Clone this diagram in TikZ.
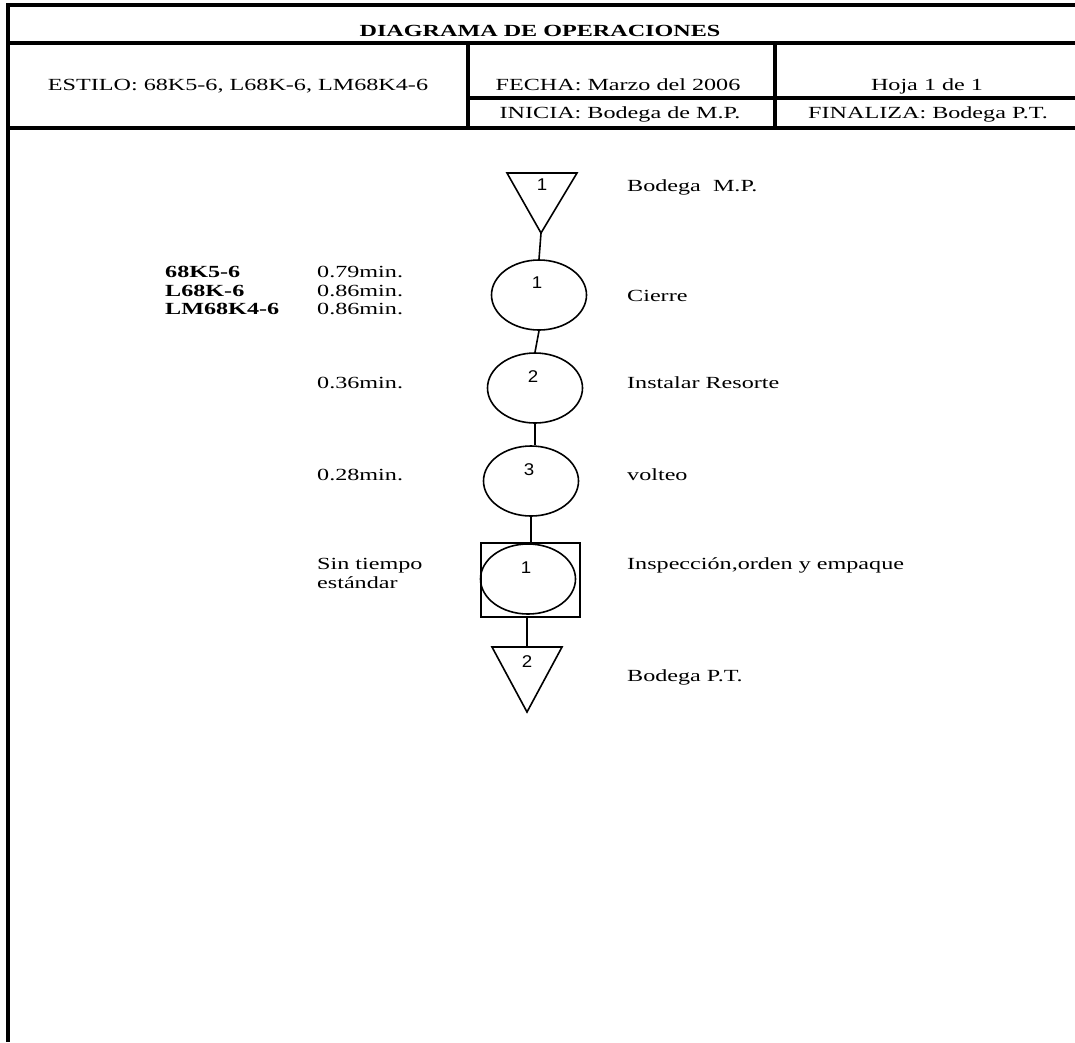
\documentclass[tikz,border=0pt]{standalone}
\usepackage{fontspec}
\setmainfont[FakeStretch=1.42]{Liberation Serif}
\newfontfamily\digitfont[FakeStretch=1.1]{Liberation Sans}
\usetikzlibrary{shapes.geometric}

\tikzset{
  frameline/.style={line width=3.6pt},
  thin/.style={line width=1.6pt},
  txt/.style={inner sep=0pt, anchor=base west, font=\fontsize{17}{19}\selectfont},
  ctxt/.style={inner sep=0pt, anchor=base, font=\fontsize{17}{19}\selectfont},
  num/.style={inner sep=0pt, anchor=base, font=\digitfont\fontsize{17}{17}\selectfont},
  oper/.style={draw, thin, ellipse, inner sep=0pt, minimum width=95pt, minimum height=70pt},
  inspbox/.style={draw, thin, rectangle, inner sep=0pt, minimum width=99pt, minimum height=74pt},
  conn/.style={thin}
}

\begin{document}
\begin{tikzpicture}[x=1pt,y=-1pt]
\useasboundingbox (0,0) rectangle (1075,1042);

% page frame and header grid
\draw[frameline] (6,5) -- (1075,5);
\draw[frameline] (8,3) -- (8,1042);
\draw[frameline] (8,43) -- (1075,43);
\draw[frameline] (8,128) -- (1075,128);
\draw[frameline] (468,43) -- (468,128);
\draw[frameline] (775,43) -- (775,128);
\draw[frameline] (468,98) -- (1075,98);

% header texts
\node[ctxt] (title) at (540,36) {\textbf{DIAGRAMA DE OPERACIONES}};
\node[ctxt] (estilo) at (238,90) {ESTILO: 68K5-6, L68K-6, LM68K4-6};
\node[ctxt] (fecha) at (618,90) {FECHA: Marzo del 2006};
\node[ctxt] (hoja) at (927,90) {Hoja 1 de 1};
\node[ctxt] (inicia) at (620,118) {INICIA: Bodega de M.P.};
\node[ctxt] (finaliza) at (928,118) {FINALIZA: Bodega P.T.};

% storage triangle 1
\coordinate (t1l) at (507,173);
\coordinate (t1r) at (577,173);
\coordinate (t1apex) at (541,233);
\draw[thin] (t1l) -- (t1r) -- (t1apex) -- cycle;
\node[num] (t1num) at (542,190) {1};

% operations
\node[oper] (op1) at (539,295) {};
\node[num] (op1num) at (537,288) {1};
\node[oper] (op2) at (535,388) {};
\node[num] (op2num) at (533,382) {2};
\node[oper] (op3) at (531,481) {};
\node[num] (op3num) at (529,475) {3};

% combined inspection / operation
\node[inspbox] (insp) at (530.5,580) {};
\node[oper] (insp1) at (528,579) {};
\node[num] (insp1num) at (526,573) {1};

% storage triangle 2
\coordinate (t2l) at (492,647);
\coordinate (t2r) at (562,647);
\coordinate (t2top) at (527,647);
\coordinate (t2apex) at (527,712);
\draw[thin] (t2l) -- (t2r) -- (t2apex) -- cycle;
\node[num] (t2num) at (527,667) {2};

% connectors
\draw[conn] (t1apex) -- (op1.north);
\draw[conn] (op1.south) -- (op2.north);
\draw[conn] (op2.south) -- (op2.south |- op3.north);
\draw[conn] (op3.south) -- (op3.south |- insp.north);
\draw[conn] (insp.south -| t2top) -- (t2top);

% step descriptions
\node[txt] (d1) at (627,191) {Bodega\ \ M.P.};
\node[txt] (d2) at (627,301) {Cierre};
\node[txt] (d3) at (627,388) {Instalar Resorte};
\node[txt] (d4) at (627,480) {volteo};
\node[txt] (d5) at (627,569) {Inspección,orden y empaque};
\node[txt] (d6) at (627,681) {Bodega P.T.};

% styles and times
\node[txt] (s1) at (165,277) {\textbf{68K5-6}};
\node[txt] (s2) at (165,296) {\textbf{L68K-6}};
\node[txt] (s3) at (165,314) {\textbf{LM68K4-6}};
\node[txt] (m1) at (317,277) {0.79min.};
\node[txt] (m2) at (317,296) {0.86min.};
\node[txt] (m3) at (317,314) {0.86min.};
\node[txt] (m4) at (317,388) {0.36min.};
\node[txt] (m5) at (317,480) {0.28min.};
\node[txt] (m6) at (317,569) {Sin tiempo};
\node[txt] (m7) at (317,588) {estándar};
\end{tikzpicture}
\end{document}
